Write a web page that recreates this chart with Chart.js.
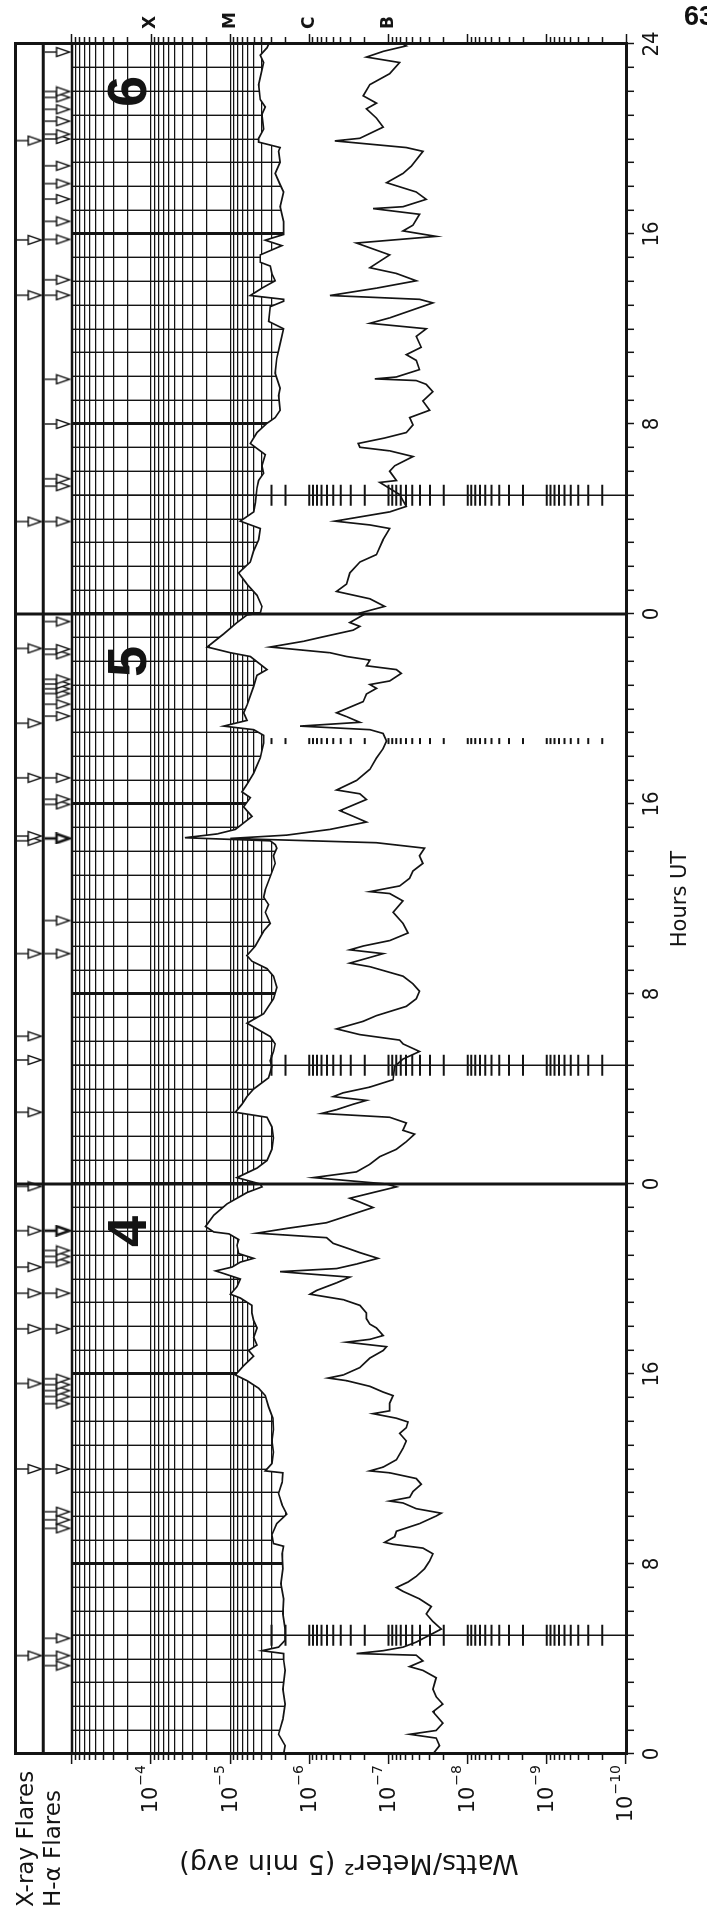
<!DOCTYPE html>
<html>
<head>
<meta charset="utf-8">
<title>GOES X-ray flux, days 4-6</title>
<script src="https://cdn.jsdelivr.net/npm/chart.js@4.4.1/dist/chart.umd.min.js"></script>
<style>
  html, body { margin: 0; padding: 0; background: #fff; overflow: hidden; width: 707px; height: 1912px; }
  #plot { position: absolute; left: 0; top: 0; width: 1912px; height: 707px;
          transform-origin: 0 0; transform: translateY(1912px) rotate(-90deg); }
  #plot canvas { display: block; }
  #page { position: absolute; left: 684px; top: 3px; font: bold 27px "Liberation Sans", Arial, sans-serif;
          line-height: 1; color: #111; white-space: nowrap; }
</style>
</head>
<body>
<div id="plot"><canvas id="goes" width="1912" height="707"></canvas></div>
<div id="page">63</div>
<script>
// hours from 00 UT of day 4, flux in W/m^2
const longChannel = [
  [0.00,2.12e-6],[0.35,2.02e-6],[0.83,2.45e-6],[1.46,2.16e-6],[2.10,2.02e-6],[2.73,2.16e-6],[3.52,2.02e-6],[4.00,2.12e-6],
  [4.23,2.12e-6],[4.35,3.97e-6],[4.50,2.45e-6],[4.79,2.02e-6],[5.26,2.02e-6],[5.90,2.16e-6],[6.53,2.12e-6],[7.17,2.29e-6],
  [7.80,2.16e-6],[8.43,2.21e-6],[8.75,2.12e-6],[8.86,2.84e-6],[9.22,2.98e-6],[9.70,2.58e-6],[10.10,1.93e-6],[10.49,2.21e-6],
  [10.97,2.45e-6],[11.44,2.21e-6],[11.84,2.16e-6],[11.92,3.60e-6],[12.23,2.98e-6],[12.71,2.84e-6],[13.18,2.98e-6],[13.66,2.84e-6],
  [14.14,2.89e-6],[14.61,3.27e-6],[15.09,3.60e-6],[15.40,4.37e-6],[15.72,6.14e-6],[15.96,8.61e-6],[16.35,6.76e-6],[16.75,5.06e-6],
  [16.99,5.85e-6],[17.22,4.59e-6],[17.54,5.06e-6],[17.94,4.59e-6],[18.25,5.06e-6],[18.57,5.31e-6],[18.89,5.31e-6],[19.20,7.45e-6],
  [19.36,9.95e-6],[19.68,8.20e-6],[20.00,7.45e-6],[20.23,1.21e-5],[20.34,1.53e-5],[20.50,9.48e-6],[20.71,7.45e-6],[20.87,5.06e-6],
  [21.07,7.82e-6],[21.42,8.20e-6],[21.66,7.82e-6],[21.90,1.04e-5],[21.98,1.61e-5],[22.21,2.05e-5],[22.69,1.61e-5],[23.16,1.10e-5],
  [23.64,6.14e-6],[23.88,3.97e-6],[24.00,4.17e-6],
  [24.27,8.20e-6],[24.67,4.59e-6],[24.99,3.43e-6],[25.46,2.98e-6],[25.94,2.84e-6],[26.41,2.98e-6],[26.81,3.43e-6],[27.02,8.61e-6],
  [27.36,7.10e-6],[27.68,6.14e-6],[28.00,5.06e-6],[28.47,3.27e-6],[28.95,2.98e-6],[29.19,3.12e-6],[29.58,2.84e-6],[29.90,2.70e-6],
  [30.21,3.12e-6],[30.53,4.59e-6],[30.77,6.14e-6],[31.17,3.78e-6],[31.80,2.84e-6],[32.04,2.70e-6],[32.28,2.58e-6],[32.75,2.84e-6],
  [33.07,3.43e-6],[33.38,5.31e-6],[33.62,6.14e-6],[34.02,4.82e-6],[34.65,3.78e-6],[34.97,3.12e-6],[35.44,3.60e-6],[35.76,3.27e-6],
  [36.08,3.78e-6],[36.39,3.60e-6],[37.50,2.70e-6],[37.82,2.84e-6],[38.14,2.58e-6],[38.29,2.70e-6],[38.45,3.12e-6],[38.58,3.73e-5],
  [38.74,1.46e-5],[38.93,8.61e-6],[39.09,7.45e-6],[39.48,5.31e-6],[39.88,6.76e-6],[40.27,5.57e-6],[40.51,7.10e-6],[40.83,6.14e-6],
  [41.30,5.06e-6],[41.94,4.17e-6],[42.57,3.78e-6],[42.89,3.78e-6],[43.13,5.06e-6],[43.28,1.21e-5],[43.52,6.14e-6],[43.84,6.76e-6],
  [44.16,6.14e-6],[44.95,5.06e-6],[45.42,4.59e-6],[45.66,3.43e-6],[46.21,5.57e-6],[46.37,9.95e-6],[46.61,1.95e-5],[47.16,1.21e-5],
  [47.64,8.20e-6],[47.96,6.14e-6],
  [48.04,4.17e-6],[48.32,3.97e-6],[48.79,4.59e-6],[49.26,6.14e-6],[49.73,7.82e-6],[50.19,5.57e-6],[50.66,5.06e-6],[51.13,4.37e-6],
  [51.60,4.17e-6],[51.91,7.45e-6],[52.30,5.06e-6],[52.69,4.82e-6],[53.31,4.59e-6],[53.62,4.37e-6],[53.93,3.78e-6],[54.24,3.97e-6],
  [54.71,3.60e-6],[55.18,5.57e-6],[55.64,4.59e-6],[56.03,3.43e-6],[56.27,2.70e-6],[56.58,2.34e-6],[57.20,2.45e-6],[57.51,2.34e-6],
  [58.14,2.70e-6],[58.76,2.58e-6],[59.38,2.34e-6],[60.01,2.12e-6],[60.32,3.27e-6],[60.94,3.12e-6],[61.17,2.12e-6],[61.25,2.12e-6],
  [61.41,5.57e-6],[61.72,3.97e-6],[62.03,2.70e-6],[62.34,2.98e-6],[62.65,3.12e-6],[62.81,4.17e-6],[63.12,4.17e-6],[63.51,2.23e-6],
  [63.74,3.60e-6],[63.98,2.12e-6],[64.52,2.12e-6],[65.15,2.34e-6],[65.77,2.12e-6],[66.08,2.34e-6],[66.55,2.70e-6],[67.02,2.34e-6],
  [67.48,2.45e-6],[67.64,2.34e-6],[67.87,4.37e-6],[68.03,4.37e-6],[68.42,3.78e-6],[69.04,3.97e-6],[69.35,3.60e-6],[69.66,4.17e-6],
  [70.29,4.37e-6],[71.22,3.78e-6],[71.53,4.17e-6],[71.84,3.43e-6],[72.00,3.27e-6]
];
const shortChannel = [
  [0.00,2.75e-8],[0.35,2.27e-8],[0.67,2.50e-8],[0.83,5.41e-8],[0.99,2.50e-8],[1.30,2.06e-8],[1.78,2.75e-8],[2.10,2.06e-8],
  [2.41,2.50e-8],[2.73,2.75e-8],[3.21,2.50e-8],[3.52,3.68e-8],[3.68,5.41e-8],[3.92,3.68e-8],[4.16,4.47e-8],[4.23,2.54e-7],
  [4.35,1.17e-7],[4.50,6.56e-8],[4.71,4.47e-8],[5.26,2.16e-8],[5.58,2.75e-8],[5.90,3.34e-8],[6.21,2.89e-8],[6.53,4.06e-8],
  [6.85,6.56e-8],[7.01,7.96e-8],[7.24,5.68e-8],[7.48,4.47e-8],[7.80,3.51e-8],[8.12,3.03e-8],[8.43,2.75e-8],[8.67,3.68e-8],
  [8.83,8.77e-8],[8.91,1.12e-7],[9.15,8.36e-8],[9.38,7.96e-8],[9.70,4.06e-8],[10.02,2.50e-8],[10.14,2.16e-8],[10.33,4.47e-8],
  [10.57,6.56e-8],[10.65,9.66e-8],[10.81,5.41e-8],[11.05,4.91e-8],[11.36,3.86e-8],[11.60,4.47e-8],[11.84,9.66e-8],[11.92,1.72e-7],
  [12.08,1.17e-7],[12.39,7.96e-8],[12.87,6.56e-8],[13.18,5.96e-8],[13.50,7.23e-8],[13.74,5.96e-8],[13.98,5.68e-8],[14.14,7.96e-8],
  [14.33,1.57e-7],[14.45,9.66e-8],[14.77,9.66e-8],[15.09,8.77e-8],[15.24,1.17e-7],[15.48,1.72e-7],[15.72,3.39e-7],[15.83,5.77e-7],
  [15.96,3.73e-7],[16.27,2.30e-7],[16.67,1.72e-7],[16.99,1.17e-7],[17.15,1.06e-7],[17.34,3.39e-7],[17.46,1.72e-7],[17.62,1.17e-7],
  [17.94,1.42e-7],[18.10,1.72e-7],[18.33,1.90e-7],[18.57,1.90e-7],[18.89,2.30e-7],[19.13,3.73e-7],[19.36,9.80e-7],[19.52,8.07e-7],
  [19.84,4.53e-7],[20.08,3.08e-7],[20.23,1.19e-6],[20.31,2.34e-6],[20.44,4.53e-7],[20.63,2.54e-7],[20.87,1.36e-7],[21.11,2.30e-7],
  [21.26,3.08e-7],[21.50,4.99e-7],[21.74,6.05e-7],[21.93,4.59e-6],[22.13,1.93e-6],[22.37,6.05e-7],[22.69,3.08e-7],[23.01,1.57e-7],
  [23.24,2.30e-7],[23.40,3.08e-7],[23.64,1.57e-7],[23.88,7.96e-8],[24.00,1.06e-7],
  [24.27,8.89e-7],[24.51,2.54e-7],[24.83,1.72e-7],[25.15,1.29e-7],[25.46,7.96e-8],[25.78,5.96e-8],[26.10,4.69e-8],[26.26,6.56e-8],
  [26.57,5.96e-8],[26.81,9.66e-8],[26.97,7.00e-7],[27.13,4.53e-7],[27.36,2.79e-7],[27.52,1.90e-7],[27.68,4.99e-7],[27.84,3.73e-7],
  [28.08,1.72e-7],[28.39,8.77e-8],[28.95,8.36e-8],[29.26,6.56e-8],[29.58,4.06e-8],[29.90,6.56e-8],[30.06,7.23e-8],[30.29,2.30e-7],
  [30.53,4.53e-7],[30.85,2.09e-7],[31.09,1.42e-7],[31.48,5.96e-8],[31.80,4.47e-8],[32.12,4.06e-8],[32.43,4.91e-8],[32.75,6.56e-8],
  [33.15,1.72e-7],[33.30,3.08e-7],[33.54,1.72e-7],[33.70,1.17e-7],[33.86,3.08e-7],[34.02,2.09e-7],[34.25,9.66e-8],[34.57,5.68e-8],
  [34.97,6.56e-8],[35.44,8.77e-8],[35.92,6.56e-8],[36.23,9.66e-8],[36.31,1.72e-7],[36.55,7.23e-8],[36.87,5.41e-8],[37.18,4.91e-8],
  [37.50,3.68e-8],[37.82,4.06e-8],[38.14,3.51e-8],[38.29,8.77e-8],[38.37,1.42e-7],[38.55,1.00e-5],[38.69,1.93e-6],[38.93,5.50e-7],
  [39.24,1.90e-7],[39.48,2.79e-7],[39.72,4.11e-7],[40.19,1.90e-7],[40.43,2.30e-7],[40.59,4.53e-7],[40.99,2.54e-7],[41.46,1.72e-7],
  [41.94,1.42e-7],[42.33,1.17e-7],[42.65,1.06e-7],[42.97,1.17e-7],[43.13,1.72e-7],[43.28,1.31e-6],[43.44,2.30e-7],[43.68,3.39e-7],
  [43.84,4.53e-7],[44.31,2.09e-7],[44.63,1.90e-7],[44.87,1.42e-7],[45.03,1.72e-7],[45.18,9.66e-8],[45.50,6.89e-8],[45.66,7.96e-8],
  [45.82,1.90e-7],[46.06,1.72e-7],[46.21,3.39e-7],[46.37,5.50e-7],[46.61,3.12e-6],[46.85,1.19e-6],[47.01,7.35e-7],[47.32,2.79e-7],
  [47.48,2.30e-7],[47.64,3.08e-7],[47.96,2.09e-7],
  [48.04,2.30e-7],[48.32,1.12e-7],[48.64,1.72e-7],[48.95,4.53e-7],[49.26,3.39e-7],[49.73,3.08e-7],[50.19,2.30e-7],[50.50,1.42e-7],
  [51.13,1.17e-7],[51.60,9.66e-8],[51.75,1.72e-7],[51.91,4.75e-7],[52.30,9.66e-8],[52.53,5.96e-8],[53.03,7.23e-8],[53.54,1.29e-7],
  [53.62,7.96e-8],[54.01,9.66e-8],[54.24,8.36e-8],[54.63,4.91e-8],[54.87,9.66e-8],[55.02,2.30e-7],[55.18,2.42e-7],[55.41,1.12e-7],
  [55.64,5.96e-8],[55.96,4.91e-8],[56.27,5.41e-8],[56.58,3.03e-8],[56.97,3.68e-8],[57.36,2.75e-8],[57.67,3.34e-8],[57.83,4.47e-8],
  [57.90,1.49e-7],[57.98,7.96e-8],[58.29,4.06e-8],[58.68,4.47e-8],[58.92,5.96e-8],[59.23,3.86e-8],[59.69,4.47e-8],[60.01,3.34e-8],
  [60.24,1.72e-7],[60.47,9.66e-8],[61.10,2.75e-8],[61.25,4.06e-8],[61.41,5.50e-7],[61.72,1.42e-7],[62.03,4.47e-8],[62.34,7.96e-8],
  [62.58,1.72e-7],[63.12,9.66e-8],[63.62,2.54e-7],[63.90,2.50e-8],[64.13,6.56e-8],[64.37,4.91e-8],[64.83,4.06e-8],[65.07,1.57e-7],
  [65.15,6.56e-8],[65.46,3.34e-8],[65.77,4.47e-8],[66.16,1.06e-7],[66.55,6.56e-8],[66.86,5.15e-8],[67.48,3.68e-8],[67.64,5.96e-8],
  [67.92,4.75e-7],[68.03,2.30e-7],[68.50,1.17e-7],[68.88,1.42e-7],[69.27,1.90e-7],[69.51,1.42e-7],[69.82,2.09e-7],[70.29,1.72e-7],
  [70.75,9.66e-8],[71.22,7.23e-8],[71.45,1.90e-7],[71.69,1.17e-7],[71.92,5.96e-8],[72.00,6.56e-8]
];

// flare event times (hours from 00 UT of day 4)
const xrayFlares = [4.14, 12.0, 15.6, 17.9, 19.4, 20.5, 22.03, 23.9, 27.02, 29.22, 30.22, 33.7, 38.45, 38.65,
  41.1, 43.4, 46.55, 51.89, 61.42, 63.75, 67.93];
const halphaFlares = [3.72, 4.14, 4.87, 9.5, 9.86, 10.2, 12.0, 14.75, 15.05, 15.3, 15.55, 15.8, 17.9, 19.4, 20.7,
  20.95, 21.2, 33.7, 35.09, 39.98, 40.2, 41.1, 43.7, 44.2, 44.65, 44.85, 45.05, 45.25, 46.3, 46.52, 47.68, 51.89,
  53.38, 53.69, 56.0, 57.88, 61.42, 62.07, 63.77, 64.53, 65.47, 66.12, 66.87, 68.0, 68.2, 68.75, 69.25, 69.75,
  70.0, 71.66];
const halphaMajor = [22.03, 38.55];
const scaleRulers = [5, 29, 53];
const faintRulers = [42.65];

const timeLabels = ['0', '8', '16', '0', '8', '16', '0', '8', '16', '24'];
const decadeExponents = [-4, -5, -6, -7, -8, -9, -10];
const exponentTexts = ['−4', '−5', '−6', '−7', '−8', '−9', '−10'];
const classExponents = [-4, -5, -6, -7];
const classLabels = ['X', 'M', 'C', 'B'];
const dayNumbers = ['4', '5', '6'];

const INK = '#141414';
const SANS = '"DejaVu Sans", "Noto Sans", sans-serif';
const NARROW = '"Liberation Sans Narrow", "DejaVu Sans Condensed", "Liberation Sans", sans-serif';

// the log axis runs on above 1e-3 to make room for the two flare strips
const yMin = 1e-10;
const yMax = Math.pow(10, -2.284);
const stripSplit = Math.pow(10, -2.638);
const xrayRow = Math.pow(10, -2.461);
const halphaRow = Math.pow(10, -2.819);

const fluxTicks = [];
for (let e = -10; e < -3; e++) {
  for (let m = 1; m <= 9; m++) fluxTicks.push(m * Math.pow(10, e));
}
fluxTicks.push(1e-3);
const hourTicks = [];
for (let h = 0; h <= 72; h++) hourTicks.push(h);
const rulerTicks = fluxTicks.filter(v => v <= 3.05e-6);

function decadeOf(v) {
  const e = Math.log10(v);
  const r = Math.round(e);
  return Math.abs(e - r) < 1e-6 ? r : null;
}

function makeFlag(width) {
  const c = document.createElement('canvas');
  c.width = 12;
  c.height = 28;
  const g = c.getContext('2d');
  g.strokeStyle = INK;
  g.fillStyle = '#fff';
  g.lineWidth = width;
  g.beginPath();
  g.moveTo(6, 1);
  g.lineTo(6, 13);
  g.stroke();
  g.beginPath();
  g.moveTo(1.5, 13);
  g.lineTo(10.5, 13);
  g.lineTo(6, 26);
  g.closePath();
  g.fill();
  g.stroke();
  return c;
}
const flag = makeFlag(1.4);
const boldFlag = makeFlag(2.6);

const toPoints = rows => rows.map(r => ({x: r[0], y: r[1]}));
const verticals = (hours, lo, hi) => hours.flatMap(h => [{x: h, y: lo}, {x: h, y: hi}, {x: h, y: null}]);
const rulerMarks = hours => hours.flatMap(h => rulerTicks.map(v => ({x: h, y: v})));
const row = (hours, y) => hours.map(h => ({x: h, y: y}));
const across = y => [{x: 0, y: y}, {x: 72, y: y}];

const overlayText = {
  id: 'overlayText',
  afterDraw(chart) {
    const {ctx, scales} = chart;
    const x = scales.x, y = scales.y;
    ctx.save();
    ctx.fillStyle = INK;
    ctx.textBaseline = 'middle';

    // flux tick labels: 10 with a raised exponent
    ctx.textAlign = 'right';
    decadeExponents.forEach((e, i) => {
      const py = y.getPixelForValue(Math.pow(10, e));
      const right = y.right - 11;
      ctx.font = '14px ' + SANS;
      const w = ctx.measureText(exponentTexts[i]).width;
      ctx.fillText(exponentTexts[i], right, py - 10);
      ctx.font = '21px ' + SANS;
      ctx.fillText('10', right - w - 1, py + 1);
    });

    ctx.textAlign = 'center';
    ctx.font = 'bold 56px "Liberation Sans", Arial, sans-serif';
    dayNumbers.forEach((d, i) => ctx.fillText(d, x.getPixelForValue(24 * i + 22), y.getPixelForValue(1.8e-4)));

    ctx.textAlign = 'left';
    ctx.font = '23px ' + SANS;
    ctx.fillText('X-ray Flares', 5, y.getPixelForValue(xrayRow) - 2);
    ctx.fillText('H-α Flares', 5, y.getPixelForValue(halphaRow) - 4);

    const mid = (y.getPixelForValue(1e-3) + y.bottom) / 2;
    ctx.translate(50, mid);
    ctx.rotate(-Math.PI / 2);
    ctx.textAlign = 'center';
    ctx.font = '27px ' + SANS;
    ctx.fillText('Watts/Meter² (5 min avg)', 0, 0);
    ctx.restore();
  }
};

const line = (data, width, extra) => Object.assign({
  type: 'line', data: data, borderColor: INK, borderWidth: width, pointRadius: 0, fill: false, tension: 0
}, extra || {});
const marks = (data, style, radius, width) => ({
  type: 'scatter', data: data, pointStyle: style, pointRadius: radius,
  pointBorderColor: INK, pointBorderWidth: width, pointBackgroundColor: '#fff'
});

new Chart(document.getElementById('goes'), {
  type: 'line',
  data: {
    datasets: [
      line(toPoints(longChannel), 1.7, {fill: 'start', backgroundColor: '#fff'}),
      line(toPoints(shortChannel), 1.7),
      line(across(yMax), 0, {fill: {value: 1e-3}, backgroundColor: '#fff'}),
      line(verticals(scaleRulers, yMin, 1e-3), 1.5),
      marks(rulerMarks(scaleRulers), 'line', 10.5, 2),
      marks(rulerMarks(faintRulers), 'line', 3, 2),
      line(verticals([24, 48], yMin, yMax), 3),
      line(across(1e-3), 2.5),
      line(across(stripSplit), 3),
      marks(row(xrayFlares, xrayRow), flag, 4, 1),
      marks(row(halphaFlares, halphaRow), flag, 4, 1),
      marks(row(halphaMajor, halphaRow), boldFlag, 4, 1)
    ]
  },
  options: {
    responsive: false,
    maintainAspectRatio: false,
    devicePixelRatio: 1,
    animation: false,
    events: [],
    layout: {padding: 0, autoPadding: false},
    plugins: {
      legend: {display: false},
      tooltip: {enabled: false},
      filler: {drawTime: 'beforeDatasetsDraw'}
    },
    scales: {
      x: {
        type: 'linear', position: 'bottom', min: 0, max: 72,
        afterBuildTicks: s => { s.ticks = hourTicks.map(v => ({value: v})); },
        afterFit: s => { s.height = 81; },
        ticks: {
          autoSkip: false, maxRotation: 0, minRotation: 0, padding: 5, color: INK,
          font: {family: NARROW, size: 22},
          callback: v => (v % 8 === 0 ? timeLabels[v / 8] : '')
        },
        grid: {
          color: INK, tickLength: 8, tickWidth: 1.5, tickColor: INK,
          lineWidth: c => (c.tick && c.tick.value % 8 === 0 ? 3 : 1.4)
        },
        border: {display: true, color: INK, width: 3, z: 1},
        title: {display: true, text: 'Hours UT', color: INK, font: {family: SANS, size: 21}, padding: {top: 0, bottom: 14}}
      },
      xTop: {
        type: 'linear', position: 'top', min: 0, max: 72,
        afterFit: s => { s.height = 12.6; },
        ticks: {display: false},
        grid: {drawOnChartArea: false, drawTicks: false},
        border: {display: true, color: INK, width: 3, z: 1}
      },
      y: {
        type: 'logarithmic', position: 'left', min: yMin, max: yMax,
        afterBuildTicks: s => { s.ticks = fluxTicks.map(v => ({value: v})); },
        afterFit: s => { s.width = 158; },
        ticks: {display: false},
        grid: {
          color: INK, lineWidth: 1.2, tickLength: 10, tickWidth: 1.5, tickColor: INK,
          tickBorderDash: c => (c.tick && decadeOf(c.tick.value) !== null ? [] : [0, 4, 6, 100])
        },
        border: {display: true, color: INK, width: 3, z: 1}
      },
      yClass: {
        type: 'logarithmic', position: 'right', min: yMin, max: yMax,
        afterBuildTicks: s => { s.ticks = fluxTicks.map(v => ({value: v})); },
        afterFit: s => { s.width = 44; },
        ticks: {
          autoSkip: false, padding: 5, color: INK, font: {family: SANS, size: 17, weight: 'bold'},
          callback: v => {
            const i = classExponents.indexOf(decadeOf(v));
            return i < 0 ? '' : classLabels[i];
          }
        },
        grid: {
          drawOnChartArea: false, tickLength: 10, tickWidth: 1.5, tickColor: INK,
          tickBorderDash: c => (c.tick && decadeOf(c.tick.value) !== null ? [] : [5, 100])
        },
        border: {display: true, color: INK, width: 3, z: 1}
      }
    }
  },
  plugins: [overlayText]
});
</script>
</body>
</html>
